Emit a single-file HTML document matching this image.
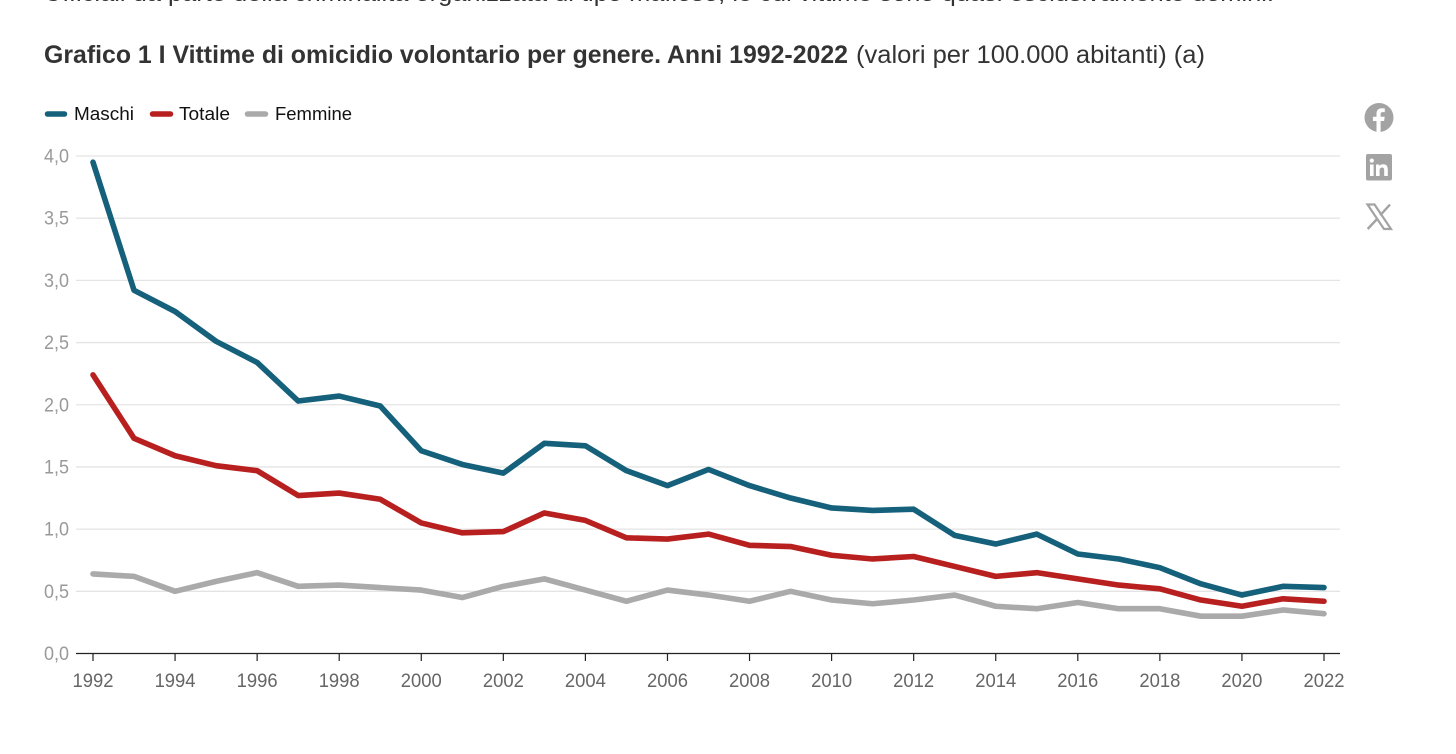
<!DOCTYPE html>
<html lang="it">
<head>
<meta charset="utf-8">
<title>Grafico 1</title>
<style>
html,body{margin:0;padding:0;background:#fff;width:1456px;height:754px;overflow:hidden}
svg{display:block;font-family:"Liberation Sans",sans-serif}
</style>
</head>
<body>
<svg id="chart" width="1456" height="754" viewBox="0 0 1456 754" xmlns="http://www.w3.org/2000/svg">
  <text x="44" y="1" font-size="24" fill="#333" textLength="1230" lengthAdjust="spacingAndGlyphs">Ufficiali da parte della criminalità organizzata di tipo mafioso, le cui vittime sono quasi esclusivamente uomini.</text>
  <text x="44" y="63" font-size="25" font-weight="700" fill="#333" textLength="804" lengthAdjust="spacingAndGlyphs">Grafico 1 I Vittime di omicidio volontario per genere. Anni 1992-2022</text>
  <text x="856" y="63" font-size="25" fill="#333" textLength="349" lengthAdjust="spacingAndGlyphs">(valori per 100.000 abitanti)  (a)</text>

  <g font-size="18.500" fill="#111">
    <line x1="47.500" x2="64.500" y1="114" y2="114" stroke="#15607a" stroke-width="5.500" stroke-linecap="round"/>
    <text x="74" y="120" textLength="60" lengthAdjust="spacingAndGlyphs">Maschi</text>
    <line x1="152.500" x2="170.500" y1="114" y2="114" stroke="#b81f1f" stroke-width="5.500" stroke-linecap="round"/>
    <text x="179" y="120" textLength="51" lengthAdjust="spacingAndGlyphs">Totale</text>
    <line x1="247.500" x2="265.500" y1="114" y2="114" stroke="#aaaaaa" stroke-width="5.500" stroke-linecap="round"/>
    <text x="275" y="120" textLength="77" lengthAdjust="spacingAndGlyphs">Femmine</text>
  </g>

  <g id="grid"></g>
  <g id="yaxis"></g>
  <g id="xaxis"></g>
  <g id="series"></g>

  <g>
    <g>
      <circle cx="1379" cy="117.500" r="14.500" fill="#a3a3a3"/>
      <path d="M1376.500 132v-11h-3.600v-4.200h3.600v-3c0-3.600 2.100-5.500 5.300-5.500 1.500 0 2.800.2 3 .2v3.600h-2.100c-1.700 0-2.100.8-2.100 2v2.700h4.100l-.6 4.200h-3.500v11z" fill="#fff"/>
    </g>
    <g>
      <rect x="1366" y="154" width="26" height="26.500" rx="2" fill="#a3a3a3"/>
      <rect x="1370" y="164.500" width="3.600" height="11.500" fill="#fff"/>
      <circle cx="1371.800" cy="160.600" r="2.100" fill="#fff"/>
      <path d="M1376 164.500h3.400v1.600c.7-1.100 2-1.900 3.700-1.900 3.400 0 4.700 2 4.700 5.400v6.400h-3.600v-5.700c0-1.700-.5-2.800-2-2.800-1.600 0-2.600 1.100-2.600 2.900v5.600h-3.600z" fill="#fff"/>
    </g>
    <g>
      <path d="M1367.500 204.500h7l16.500 24.500h-7z" fill="none" stroke="#a3a3a3" stroke-width="2.200"/>
      <path d="M1390 204.500l-9.800 10.800M1377.500 218.500l-9.800 10.500" fill="none" stroke="#a3a3a3" stroke-width="2.400"/>
    </g>
  </g>
</svg>
<script>
const years = [1992,1993,1994,1995,1996,1997,1998,1999,2000,2001,2002,2003,2004,2005,2006,2007,2008,2009,2010,2011,2012,2013,2014,2015,2016,2017,2018,2019,2020,2021,2022];
const maschi = [3.95,2.92,2.75,2.51,2.34,2.03,2.07,1.99,1.63,1.52,1.45,1.69,1.67,1.47,1.35,1.48,1.35,1.25,1.17,1.15,1.16,0.95,0.88,0.96,0.80,0.76,0.69,0.56,0.47,0.54,0.53];
const totale = [2.24,1.73,1.59,1.51,1.47,1.27,1.29,1.24,1.05,0.97,0.98,1.13,1.07,0.93,0.92,0.96,0.87,0.86,0.79,0.76,0.78,0.70,0.62,0.65,0.60,0.55,0.52,0.43,0.38,0.44,0.42];
const femmine = [0.64,0.62,0.50,0.58,0.65,0.54,0.55,0.53,0.51,0.45,0.54,0.60,0.51,0.42,0.51,0.47,0.42,0.50,0.43,0.40,0.43,0.47,0.38,0.36,0.41,0.36,0.36,0.30,0.30,0.35,0.32];
const yTicks = [0,0.5,1,1.5,2,2.5,3,3.5,4];
const yTickLabels = ["0,0","0,5","1,0","1,5","2,0","2,5","3,0","3,5","4,0"];
const xTickLabels = [1992,1994,1996,1998,2000,2002,2004,2006,2008,2010,2012,2014,2016,2018,2020,2022];

const NS = "http://www.w3.org/2000/svg";
function xScale(year){ return 93 + (year - 1992) * (1324 - 93) / 30; }
function yScale(v){ return 653.5 - v * (653.5 - 156) / 4; }
function make(tag, attrs, parent){
  const el = document.createElementNS(NS, tag);
  for (const k in attrs) el.setAttribute(k, attrs[k]);
  parent.appendChild(el);
  return el;
}
const grid = document.getElementById("grid");
const yaxis = document.getElementById("yaxis");
const xaxis = document.getElementById("xaxis");
const seriesGroup = document.getElementById("series");

yTicks.forEach(function(t, i){
  if (t !== 0) {
    const line = make("line", {x1:76, x2:1340, y1:yScale(t), y2:yScale(t), stroke:"#e4e4e4", "stroke-width":1.3}, grid);
    
    
  }
  const label = make("text", {x:69, y:yScale(t)+6.5, "text-anchor":"end", "font-size":19, fill:"#999", textLength:25, lengthAdjust:"spacingAndGlyphs"}, yaxis);
  
  
  label.textContent = yTickLabels[i];
});

const axisLine = make("line", {x1:76, x2:1340, y1:653.5, y2:653.5, stroke:"#222", "stroke-width":1.2}, xaxis);


xTickLabels.forEach(function(y){
  const tick = make("line", {x1:xScale(y), x2:xScale(y), y1:653.5, y2:661, stroke:"#222", "stroke-width":1.2}, xaxis);
  
  
  const label = make("text", {x:xScale(y), y:687, "text-anchor":"middle", "font-size":19, fill:"#666", textLength:41, lengthAdjust:"spacingAndGlyphs"}, xaxis);
  
  
  label.textContent = y;
});

function drawSeries(values, color){
  const pts = values.map(function(v, i){ return xScale(years[i]).toFixed(2) + "," + yScale(v).toFixed(2); }).join(" ");
  return make("polyline", {points:pts, fill:"none", stroke:color, "stroke-width":5.6, "stroke-linejoin":"round", "stroke-linecap":"round"}, seriesGroup);
}
const lineFemmine = drawSeries(femmine, "#aaaaaa");


const lineTotale = drawSeries(totale, "#b81f1f");


const lineMaschi = drawSeries(maschi, "#15607a");


</script>
</body>
</html>
